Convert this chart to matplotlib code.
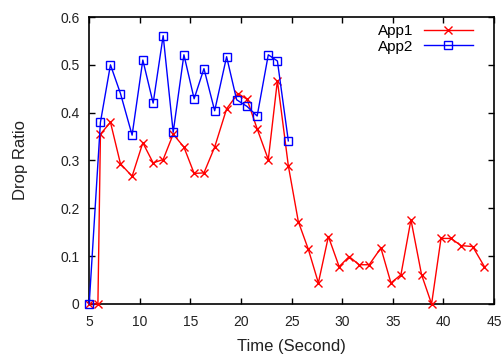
import numpy as np
import matplotlib
matplotlib.use("Agg")
import matplotlib.pyplot as plt

plt.rcParams["font.family"] = ["Liberation Sans", "DejaVu Sans"]
plt.rcParams["font.size"] = 10

# App1 (red, x markers)
t_app1 = [5.0, 5.86, 6.11, 7.1, 8.09, 9.24, 10.3, 11.32, 12.31, 13.3, 14.36,
          15.37, 16.34, 17.4, 18.58, 19.7, 20.6, 21.6, 22.7, 23.6, 24.68,
          25.67, 26.66, 27.65, 28.64, 29.7, 30.69, 31.68, 32.67, 33.83, 34.82,
          35.81, 36.8, 37.85, 38.84, 39.77, 40.76, 41.75, 42.9, 44.06]
app1 = [0.0, 0.0, 0.355, 0.38, 0.293, 0.267, 0.337, 0.295, 0.302, 0.355, 0.328,
        0.273, 0.274, 0.328, 0.408, 0.44, 0.428, 0.366, 0.302, 0.467, 0.289,
        0.172, 0.114, 0.044, 0.141, 0.078, 0.099, 0.082, 0.082, 0.117, 0.044,
        0.061, 0.176, 0.061, 0.0, 0.137, 0.137, 0.122, 0.12, 0.078]

# App2 (blue, square markers)
t_app2 = [5.0, 6.11, 7.1, 8.09, 9.24, 10.3, 11.32, 12.31, 13.3, 14.36, 15.37,
          16.34, 17.4, 18.58, 19.57, 20.6, 21.6, 22.7, 23.6, 24.68]
app2 = [0.0, 0.38, 0.5, 0.44, 0.353, 0.51, 0.42, 0.561, 0.359, 0.521, 0.429,
        0.492, 0.404, 0.517, 0.427, 0.413, 0.393, 0.521, 0.508, 0.341]

y_ticks = [0, 0.1, 0.2, 0.3, 0.4, 0.5, 0.6]
y_labels = ["0", "0.1", "0.2", "0.3", "0.4", "0.5", "0.6"]

fig = plt.figure(figsize=(5.04, 3.58), dpi=100)
ax = fig.add_axes([0.177, 0.151, 0.803, 0.8015])

ax.plot(t_app1, app1, color="#ff0000", lw=1.0, marker="x", ms=6, mew=1.0,
        label="App1", clip_on=False, zorder=3)
ax.plot(t_app2, app2, color="#0000ff", lw=1.0, marker="s", ms=5.5, mew=1.0,
        mfc="none", label="App2", clip_on=False, zorder=4)

ax.set_xlim(5, 45)
ax.set_ylim(0, 0.6)
ax.set_xticks(np.arange(5, 46, 5))
ax.set_yticks(y_ticks)
ax.set_yticklabels(y_labels)
ax.tick_params(direction="in", top=True, right=True, length=4, width=1,
               labelcolor="#222222")
ax.tick_params(axis="x", pad=8)
ax.tick_params(axis="y", pad=7)
for s in ax.spines.values():
    s.set_linewidth(1.2)

ax.set_xlabel("Time (Second)", labelpad=7, color="#222222", fontsize=12)
ax.set_ylabel("Drop Ratio", labelpad=23, color="#222222", fontsize=12)

leg = ax.legend(loc="upper right", bbox_to_anchor=(0.948, 0.975),
                frameon=False, markerfirst=False, handlelength=3.2,
                handletextpad=0.7, labelspacing=0.1, borderaxespad=0,
                borderpad=0, fontsize=11)

fig.savefig("out.png", dpi=100)
